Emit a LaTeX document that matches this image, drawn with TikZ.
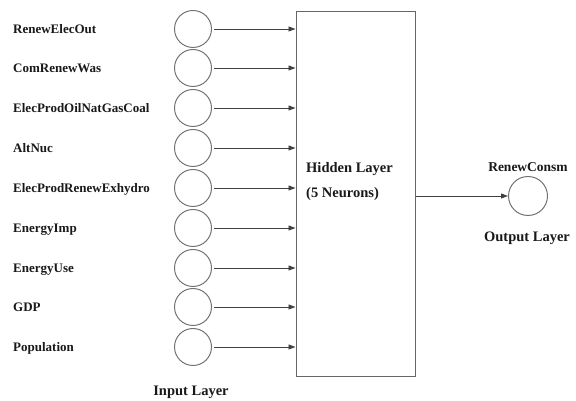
\documentclass[tikz,border=0pt]{standalone}
\usepackage{fontspec}
\setmainfont{Liberation Serif}
\usetikzlibrary{arrows.meta}
\begin{document}
\begin{tikzpicture}[x=1pt,y=1pt,
  neuron/.style={circle,draw=black!55,line width=1pt,minimum size=37pt,inner sep=0pt},
  varlabel/.style={anchor=base west,inner sep=0pt,font=\fontsize{13}{15}\selectfont\bfseries,text=black!90},
  layerlabel/.style={inner sep=0pt,font=\fontsize{14.5}{17}\selectfont\bfseries,text=black!90},
  conn/.style={draw=black!75,line width=0.9pt,-{Triangle[length=7pt,width=5pt]},shorten <=2pt}]
\useasboundingbox (0,0) rectangle (576,401);
\node[draw=black!60,line width=1pt,minimum width=119pt,minimum height=365pt,inner sep=0pt] (hid) at (355.5,206.5) {};
\node[layerlabel,anchor=base west] (ht1) at (306,228) {Hidden Layer};
\node[layerlabel,anchor=base west] (ht2) at (306,203) {(5 Neurons)};
\foreach \i/\y/\t in {1/29/RenewElecOut,2/68/ComRenewWas,3/108/ElecProdOilNatGasCoal,4/148/AltNuc,5/188/ElecProdRenewExhydro,6/228/EnergyImp,7/268/EnergyUse,8/307/GDP,9/347/Population}{
  \node[neuron] (c\i) at (193,401-\y) {};
  \node[varlabel] (l\i) at (13,401-\y-4.5) {\t};
  \draw[conn] (c\i.east) -- (c\i.east -| hid.west);
}
\node[layerlabel] (inl) at (191,9) {Input Layer};
\node[neuron,minimum size=39pt] (out) at (528,205) {};
\node[layerlabel,font=\fontsize{13.5}{16}\selectfont\bfseries] (outn) at (528,234) {RenewConsm};
\node[layerlabel] (outl) at (527,163) {Output Layer};
\draw[conn,shorten <=0pt] (out.west -| hid.east) -- (out.west);
\end{tikzpicture}
\end{document}
